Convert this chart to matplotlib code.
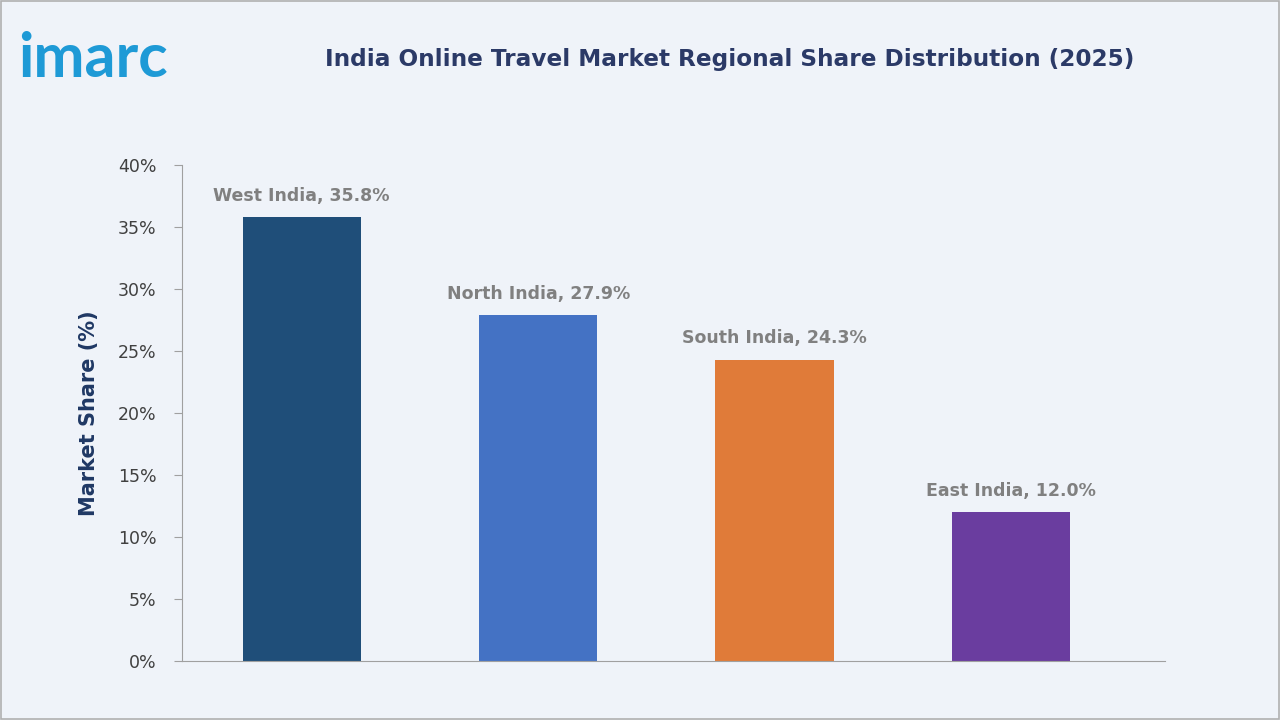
import matplotlib
matplotlib.use("Agg")
import matplotlib.pyplot as plt

regions = ["West India", "North India", "South India", "East India"]
shares = [35.8, 27.9, 24.3, 12.0]
colors = ["#1f4e79", "#4472c4", "#e07b39", "#6a3d9f"]
yticks = [0, 5, 10, 15, 20, 25, 30, 35, 40]

bg = "#eff3f9"
fig = plt.figure(figsize=(12.8, 7.2), dpi=100, facecolor=bg)
ax = fig.add_axes([0.142, 0.082, 0.768, 0.689], facecolor=bg)
x = list(range(len(regions)))
ax.bar(x, shares, width=0.5, color=colors)
for xi, r, v in zip(x, regions, shares):
    ax.text(xi, v + 1.0, f"{r}, {v:.1f}%", ha="center", va="bottom",
            fontsize=12.5, fontweight="bold", color="#808080")
ax.set_xlim(-0.507, 3.65)
ax.set_ylim(0, 40)
ax.set_yticks(yticks)
ax.set_yticklabels([f"{t}%" for t in yticks], fontsize=12.5, color="#404040")
ax.set_xticks([])
for s in ["top", "right"]:
    ax.spines[s].set_visible(False)
ax.spines["left"].set_color("#a0a0a0")
ax.spines["bottom"].set_color("#a0a0a0")
ax.tick_params(axis="y", length=6, color="#a0a0a0", pad=12)
ax.set_ylabel("Market Share (%)", fontsize=15, fontweight="bold", color="#1f3864", labelpad=14)

fig.text(0.57, 0.918, "India Online Travel Market Regional Share Distribution (2025)",
         ha="center", va="center", fontsize=16.7, fontweight="bold", color="#2b3a67")
fig.text(0.014, 0.918, "imarc", ha="left", va="center", fontsize=44,
         fontweight="bold", color="#1e9ad6", family="Lato")
fig.patches.append(plt.Rectangle((0.001, 0.001), 0.998, 0.998, transform=fig.transFigure,
                                 fill=False, edgecolor="#b0b0b0", linewidth=1.2))
fig.savefig("out.png", dpi=100, facecolor=bg)
